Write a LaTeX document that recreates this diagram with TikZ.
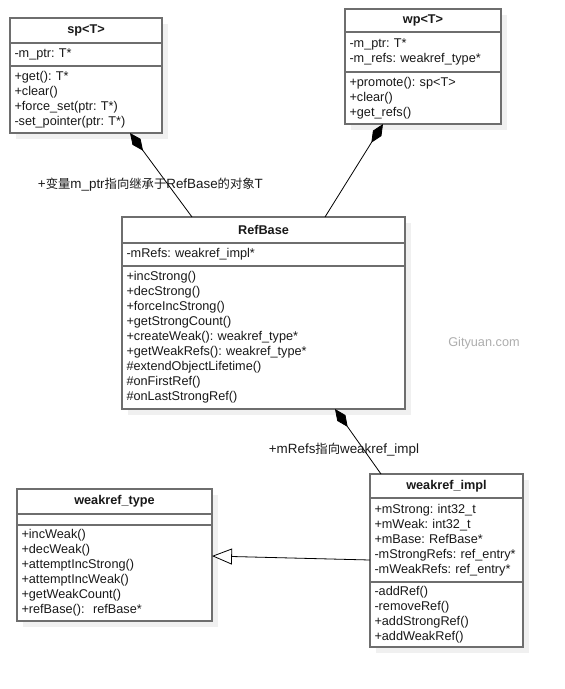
\documentclass[tikz,border=0pt]{standalone}
\usepackage{fontspec}
\setmainfont{Liberation Sans}
\newfontfamily\cjk{Noto Sans CJK SC}[Scale=0.92]
\usepackage{tikz}
\usetikzlibrary{arrows.meta,positioning,shadows}
\definecolor{umlgray}{RGB}{110,110,110}
\definecolor{umlshadow}{RGB}{240,240,240}
\definecolor{umltext}{RGB}{25,25,25}
\frenchspacing

\begin{document}
\begin{tikzpicture}[
  x=1pt, y=-1pt,
  font=\fontsize{12.7}{15}\selectfont,
  part/.style={draw=umlgray, line width=1.5pt, fill=white, inner xsep=4.5pt, inner ysep=4pt,
               outer sep=0pt, text=umltext, align=left,
               drop shadow={shadow xshift=6pt, shadow yshift=-6pt, fill=umlshadow, opacity=1}},
  head/.style={part, align=center, font=\fontsize{12.7}{15}\selectfont\bfseries},
  comp/.style={{Diamond[length=22pt,width=10pt]}-, line width=0.8pt},
  gen/.style={-{Triangle[open,length=20pt,width=16pt,fill=white]}, line width=0.8pt},
  lbl/.style={text=umltext, font=\fontsize{13.4}{15}\selectfont}
]
\useasboundingbox (0,0) rectangle (565,689);

% sp<T>
\node[head, text width=143pt, minimum height=25pt, anchor=north west] (sp) at (10,18) {sp<T>};
\node[part, text width=143pt, minimum height=23pt, below=0pt of sp] (spattr) {-m\_ptr: T*};
\node[part, text width=143pt, minimum height=67pt, below=0pt of spattr] (spops)
  {+get(): T*\\+clear()\\+force\_set(ptr: T*)\\-set\_pointer(ptr: T*)};

% wp<T>
\node[head, text width=147pt, minimum height=23pt, anchor=north west] (wp) at (345,9) {wp<T>};
\node[part, text width=147pt, minimum height=40pt, below=0pt of wp] (wpattr)
  {-m\_ptr: T*\\-m\_refs: weakref\_type*};
\node[part, text width=147pt, minimum height=52pt, below=0pt of wpattr] (wpops)
  {+promote(): sp<T>\\+clear()\\+get\_refs()};

% RefBase
\node[head, text width=274pt, minimum height=26pt, anchor=north west] (rb) at (122,217) {RefBase};
\node[part, text width=274pt, minimum height=23pt, below=0pt of rb] (rbattr) {-mRefs: weakref\_impl*};
\node[part, text width=274pt, minimum height=143pt, below=0pt of rbattr] (rbops)
  {+incStrong()\\+decStrong()\\+forceIncStrong()\\+getStrongCount()\\+createWeak(): weakref\_type*\\
   +getWeakRefs(): weakref\_type*\\\#extendObjectLifetime()\\\#onFirstRef()\\\#onLastStrongRef()};

% weakref_type
\node[head, text width=186pt, minimum height=25pt, anchor=north west] (wt) at (17,489) {weakref\_type};
\node[part, text width=186pt, minimum height=11pt, below=0pt of wt] (wtattr) {};
\node[part, text width=186pt, minimum height=96pt, below=0pt of wtattr] (wtops)
  {+incWeak()\\+decWeak()\\+attemptIncStrong()\\+attemptIncWeak()\\+getWeakCount()\\+refBase():~~refBase*};

% weakref_impl
\node[head, text width=144pt, minimum height=24pt, anchor=north west] (impl) at (370,474) {weakref\_impl};
\node[part, text width=144pt, minimum height=84pt, below=0pt of impl] (implattr)
  {+mStrong: int32\_t\\+mWeak: int32\_t\\+mBase: RefBase*\\-mStrongRefs: ref\_entry*\\-mWeakRefs: ref\_entry*};
\node[part, text width=144pt, minimum height=65pt, below=0pt of implattr] (implops)
  {-addRef()\\-removeRef()\\+addStrongRef()\\+addWeakRef()};

\node[text=black!32] (mark) at (484,343) {Gityuan.com};

\draw[comp] ([xshift=44pt]spops.south) --
  node[lbl, pos=0.62, xshift=-18pt] {+{\cjk 变量}m\_ptr{\cjk 指向继承于}RefBase{\cjk 的对象}T}
  ([xshift=-71.5pt]rb.north);
\draw[comp] ([xshift=-40pt]wpops.south) -- ([xshift=61.5pt]rb.north);
\draw[comp] ([xshift=71.5pt]rbops.south) --
  node[lbl, pos=0.63, xshift=-20pt] {+mRefs{\cjk 指向}weakref\_impl}
  ([xshift=-65.5pt]impl.north);
\draw[gen] ([yshift=-20pt]implattr.west) -- ([yshift=17pt]wtops.east);
\end{tikzpicture}
\end{document}
